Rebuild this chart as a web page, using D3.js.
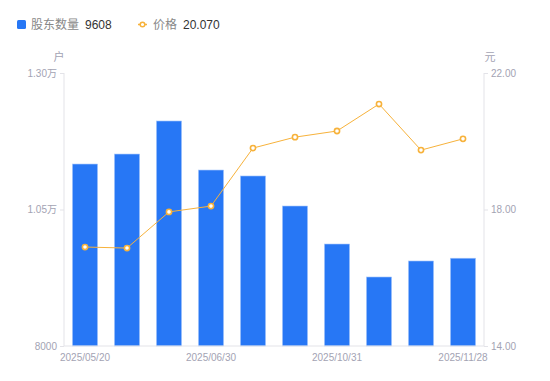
<!DOCTYPE html>
<html>
<head>
<meta charset="utf-8">
<script src="https://cdn.jsdelivr.net/npm/d3@7"></script>
<style>
  body { margin: 0; background: #fff; }
  text { font-family: "Liberation Sans", Arial, "Noto Sans CJK SC", sans-serif; }
</style>
</head>
<body>
<script>
// data
var dates = ["2025/05/20", "2025/05/30", "2025/06/20", "2025/06/30", "2025/07/31",
             "2025/08/29", "2025/10/31", "2025/11/10", "2025/11/20", "2025/11/28"];
var holders = [11333, 11516, 12121, 11223, 11114, 10564, 9868, 9264, 9557, 9608];
var prices = [16.90, 16.87, 17.93, 18.10, 19.80, 20.12, 20.30, 21.09, 19.74, 20.07];
var holderTicks = [8000, 10500, 13000];
var priceTicks = [14, 18, 22];
var shownDates = ["2025/05/20", "2025/06/30", "2025/10/31", "2025/11/28"];

window.onload = function() {

  var width = 550, height = 381;
  var margin = {top: 73, right: 66, bottom: 35, left: 64};
  var w = width - margin.left - margin.right;
  var h = height - margin.top - margin.bottom;

  var blue = "#2777f5";
  var orange = "#f7b23b";
  var grey = "#a3a3b3";
  var axisColor = "#e3e3e8";

  var svg = d3.select("body")
              .append("svg")
              .attr("width", width)
              .attr("height", height);

  var g = svg.append("g")
             .attr("transform", "translate(" + margin.left + "," + margin.top + ")");

  // scales
  var xScale = d3.scaleBand()
                 .domain(dates)
                 .range([0, w])
                 .paddingInner(0.4)
                 .paddingOuter(0.2);

  var yLeft = d3.scaleLinear()
                .domain([8000, 13000])
                .range([h, 0]);

  var yRight = d3.scaleLinear()
                 .domain([14, 22])
                 .range([h, 0]);

  // bars
  g.selectAll("rect.bar")
   .data(dates)
   .enter()
   .append("rect")
   .attr("class", "bar")
   .attr("x", function(d) { return xScale(d); })
   .attr("y", function(d, i) { return yLeft(holders[i]); })
   .attr("width", xScale.bandwidth())
   .attr("height", function(d, i) { return h - yLeft(holders[i]); })
   .attr("fill", blue)
   .attr("stroke", "#a9c8fb")
   .attr("stroke-width", 0.6);

  // left axis
  var leftAxis = d3.axisLeft(yLeft)
                   .tickValues(holderTicks)
                   .tickSize(4)
                   .tickPadding(3)
                   .tickFormat(function(d) {
                     return d >= 10000 ? (d / 10000).toFixed(2) + "万" : d;
                   });
  var lg = g.append("g").call(leftAxis);
  lg.select(".domain").attr("stroke", axisColor).attr("d", "M0,0V" + h);
  lg.selectAll("line").attr("stroke", axisColor);
  lg.selectAll("text").attr("fill", grey).attr("font-size", "10px")
    .style("font-family", "'Liberation Sans', 'Noto Sans CJK SC', sans-serif");

  // right axis
  var rightAxis = d3.axisRight(yRight)
                    .tickValues(priceTicks)
                    .tickSize(4)
                    .tickPadding(3)
                    .tickFormat(d3.format(".2f"));
  var rg = g.append("g")
            .attr("transform", "translate(" + w + ",0)")
            .call(rightAxis);
  rg.select(".domain").attr("stroke", axisColor).attr("d", "M0,0V" + h);
  rg.selectAll("line").attr("stroke", axisColor);
  rg.selectAll("text").attr("fill", grey).attr("font-size", "10px");

  // bottom axis line
  g.append("line")
   .attr("x1", 0).attr("x2", w)
   .attr("y1", h).attr("y2", h)
   .attr("stroke", axisColor);

  // x labels
  g.selectAll("text.xlab")
   .data(shownDates)
   .enter()
   .append("text")
   .attr("class", "xlab")
   .attr("x", function(d) { return xScale(d) + xScale.bandwidth() / 2; })
   .attr("y", h + 15)
   .attr("text-anchor", "middle")
   .attr("font-size", "10px")
   .attr("fill", grey)
   .text(function(d) { return d; });

  // unit labels
  g.append("text")
   .attr("x", -5).attr("y", -12)
   .attr("text-anchor", "middle")
   .attr("font-size", "11px")
   .attr("fill", grey)
   .style("font-family", "'Noto Sans CJK SC', sans-serif")
   .text("户");

  g.append("text")
   .attr("x", w + 6).attr("y", -12)
   .attr("text-anchor", "middle")
   .attr("font-size", "11px")
   .attr("fill", grey)
   .style("font-family", "'Noto Sans CJK SC', sans-serif")
   .text("元");

  // price line
  var line = d3.line()
               .x(function(d, i) { return xScale(dates[i]) + xScale.bandwidth() / 2; })
               .y(function(d) { return yRight(d); });

  g.append("path")
   .datum(prices)
   .attr("d", line)
   .attr("fill", "none")
   .attr("stroke", orange)
   .attr("stroke-width", 1);

  g.selectAll("circle.pt")
   .data(prices)
   .enter()
   .append("circle")
   .attr("class", "pt")
   .attr("cx", function(d, i) { return xScale(dates[i]) + xScale.bandwidth() / 2; })
   .attr("cy", function(d) { return yRight(d); })
   .attr("r", 2.6)
   .attr("fill", "#fff")
   .attr("stroke", orange)
   .attr("stroke-width", 1.6);

  // legend
  var legend = svg.append("g").attr("transform", "translate(17,24)");
  legend.append("rect")
        .attr("x", 0).attr("y", -4)
        .attr("width", 9).attr("height", 9)
        .attr("rx", 1.5)
        .attr("fill", blue);
  legend.append("text")
        .attr("x", 14).attr("y", 4.5)
        .attr("font-size", "12px")
        .attr("fill", "#888")
        .style("font-family", "'Noto Sans CJK SC', sans-serif")
        .text("股东数量");
  legend.append("text")
        .attr("x", 68).attr("y", 4.5)
        .attr("font-size", "12px")
        .attr("fill", "#333")
        .text(d3.format("d")(holders[holders.length - 1]));

  legend.append("line")
        .attr("x1", 121).attr("x2", 130)
        .attr("y1", 0.5).attr("y2", 0.5)
        .attr("stroke", orange)
        .attr("stroke-width", 1.5);
  legend.append("circle")
        .attr("cx", 125.5).attr("cy", 0.5)
        .attr("r", 2.3)
        .attr("fill", "#fff")
        .attr("stroke", orange)
        .attr("stroke-width", 1.5);
  legend.append("text")
        .attr("x", 136).attr("y", 4.5)
        .attr("font-size", "12px")
        .attr("fill", "#888")
        .style("font-family", "'Noto Sans CJK SC', sans-serif")
        .text("价格");
  legend.append("text")
        .attr("x", 166).attr("y", 4.5)
        .attr("font-size", "12px")
        .attr("fill", "#333")
        .text(d3.format(".3f")(prices[prices.length - 1]));
};
</script>
</body>
</html>
